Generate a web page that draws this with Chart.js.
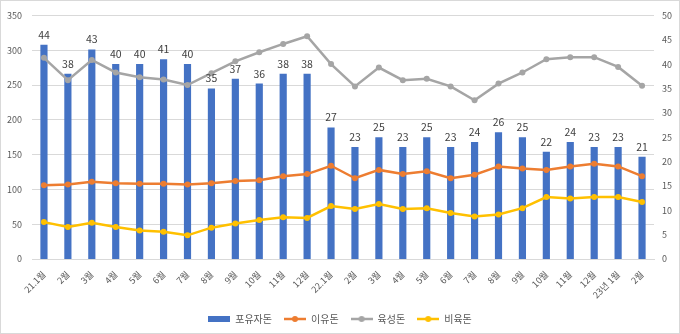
<!DOCTYPE html>
<html>
<head>
<meta charset="utf-8">
<script src="https://cdn.jsdelivr.net/npm/chart.js@4/dist/chart.umd.min.js"></script>
<style>
  html, body { margin: 0; padding: 0; background: #fff; }
  #wrap { width: 680px; height: 334px; }
</style>
</head>
<body>
<div id="wrap"><canvas id="myChart" width="680" height="334"></canvas></div>
<script>
const months = ['21.1월', '2월', '3월', '4월', '5월', '6월', '7월', '8월', '9월', '10월', '11월', '12월',
  '22.1월', '2월', '3월', '4월', '5월', '6월', '7월', '8월', '9월', '10월', '11월', '12월',
  '23년 1월', '2월'];

// 포유자돈 (오른쪽 축)
const sowPigs = [44, 38, 43, 40, 40, 41, 40, 35, 37, 36, 38, 38,
  27, 23, 25, 23, 25, 23, 24, 26, 25, 22, 24, 23, 23, 21];
// 이유돈, 육성돈, 비육돈 (왼쪽 축)
const weaners = [106, 107, 111, 109, 108, 108, 107, 109, 112, 113, 119, 122,
  134, 116, 128, 122, 126, 116, 121, 133, 130, 128, 133, 137, 133, 119];
const growers = [289, 257, 286, 268, 261, 258, 250, 267, 284, 297, 309, 320,
  280, 248, 275, 257, 259, 248, 228, 252, 268, 287, 290, 290, 276, 249];
const finishers = [53, 46, 52, 46, 41, 39, 34, 45, 51, 56, 60, 59,
  76, 72, 79, 72, 73, 66, 61, 64, 73, 89, 87, 89, 89, 82];

const leftTicks = [0, 50, 100, 150, 200, 250, 300, 350];
const rightTicks = [0, 5, 10, 15, 20, 25, 30, 35, 40, 45, 50];

const FONT = "'Noto Sans CJK KR', 'Noto Sans', sans-serif";
const BLUE = '#4472C4', ORANGE = '#ED7D31', GRAY = '#A5A5A5', YELLOW = '#FFC000';

// 범례 아이콘
function legendIcon(color, isBar) {
  const c = document.createElement('canvas');
  c.width = 22; c.height = 8;
  const g = c.getContext('2d');
  if (isBar) {
    g.fillStyle = color;
    g.fillRect(0, 1, 22, 6);
  } else {
    g.strokeStyle = color;
    g.lineWidth = 2.5;
    g.beginPath(); g.moveTo(0, 4); g.lineTo(22, 4); g.stroke();
    g.fillStyle = color;
    g.beginPath(); g.arc(11, 4, 3, 0, Math.PI * 2); g.fill();
  }
  return c;
}

const frame = {
  id: 'frame',
  beforeDraw(chart) {
    const ctx = chart.ctx;
    ctx.save();
    ctx.fillStyle = '#fff';
    ctx.fillRect(0, 0, chart.width, chart.height);
    ctx.strokeStyle = '#D9D9D9';
    ctx.lineWidth = 1;
    ctx.strokeRect(0.5, 0.5, chart.width - 1, chart.height - 1);
    ctx.restore();
  }
};

// 막대 위 값 표시
const barLabels = {
  id: 'barLabels',
  afterDatasetsDraw(chart) {
    const ctx = chart.ctx;
    const meta = chart.getDatasetMeta(0);
    ctx.save();
    ctx.font = '10.5px ' + FONT;
    ctx.fillStyle = '#404040';
    ctx.textAlign = 'center';
    ctx.textBaseline = 'middle';
    meta.data.forEach((bar, i) => {
      ctx.fillText(String(sowPigs[i]), bar.x, bar.y - 10);
    });
    ctx.restore();
  }
};

const icons = [legendIcon(BLUE, true), legendIcon(ORANGE), legendIcon(GRAY), legendIcon(YELLOW)];

const lineStyle = (color) => ({
  type: 'line',
  yAxisID: 'y',
  borderColor: color,
  backgroundColor: color,
  borderWidth: 2.5,
  pointRadius: 3,
  pointBorderWidth: 0,
  pointBackgroundColor: color,
  tension: 0,
  fill: false
});

new Chart(document.getElementById('myChart').getContext('2d'), {
  type: 'bar',
  data: {
    labels: months,
    datasets: [
      { label: '포유자돈', data: sowPigs, yAxisID: 'y1', backgroundColor: BLUE,
        barPercentage: 0.5, categoryPercentage: 0.6, order: 4 },
      Object.assign({ label: '이유돈', data: weaners, order: 3 }, lineStyle(ORANGE)),
      Object.assign({ label: '육성돈', data: growers, order: 1 }, lineStyle(GRAY)),
      Object.assign({ label: '비육돈', data: finishers, order: 2 }, lineStyle(YELLOW))
    ]
  },
  options: {
    responsive: false,
    animation: false,
    layout: { padding: { left: 0, right: 0, top: 11, bottom: 0 } },
    plugins: {
      tooltip: { enabled: false },
      legend: {
        position: 'bottom',
        labels: {
          font: { family: FONT, size: 10 },
          color: '#595959',
          usePointStyle: true,
          pointStyleWidth: 22,
          padding: 12,
          generateLabels(chart) {
            const items = Chart.defaults.plugins.legend.labels.generateLabels(chart);
            items.forEach(it => { it.pointStyle = icons[it.datasetIndex]; });
            return items.sort((a, b) => a.datasetIndex - b.datasetIndex);
          }
        }
      }
    },
    scales: {
      x: {
        grid: { display: false },
        border: { color: '#D9D9D9' },
        ticks: {
          font: { family: FONT, size: 9 },
          color: '#595959',
          minRotation: 45,
          maxRotation: 45,
          autoSkip: false,
          padding: 2
        },
        afterFit(scale) { scale.height = 43; }
      },
      y: {
        position: 'left',
        min: leftTicks[0],
        max: leftTicks[leftTicks.length - 1],
        afterBuildTicks(scale) { scale.ticks = leftTicks.map(v => ({ value: v })); },
        grid: { color: '#D9D9D9', drawTicks: false },
        border: { display: false },
        ticks: { font: { family: FONT, size: 9 }, color: '#595959', padding: 10 },
        afterFit(scale) { scale.width = 32; }
      },
      y1: {
        position: 'right',
        min: rightTicks[0],
        max: rightTicks[rightTicks.length - 1],
        afterBuildTicks(scale) { scale.ticks = rightTicks.map(v => ({ value: v })); },
        grid: { display: false, drawTicks: false },
        border: { display: false },
        ticks: { font: { family: FONT, size: 9 }, color: '#595959', padding: 8 },
        afterFit(scale) { scale.width = 26; }
      }
    }
  },
  plugins: [frame, barLabels]
});
</script>
</body>
</html>
